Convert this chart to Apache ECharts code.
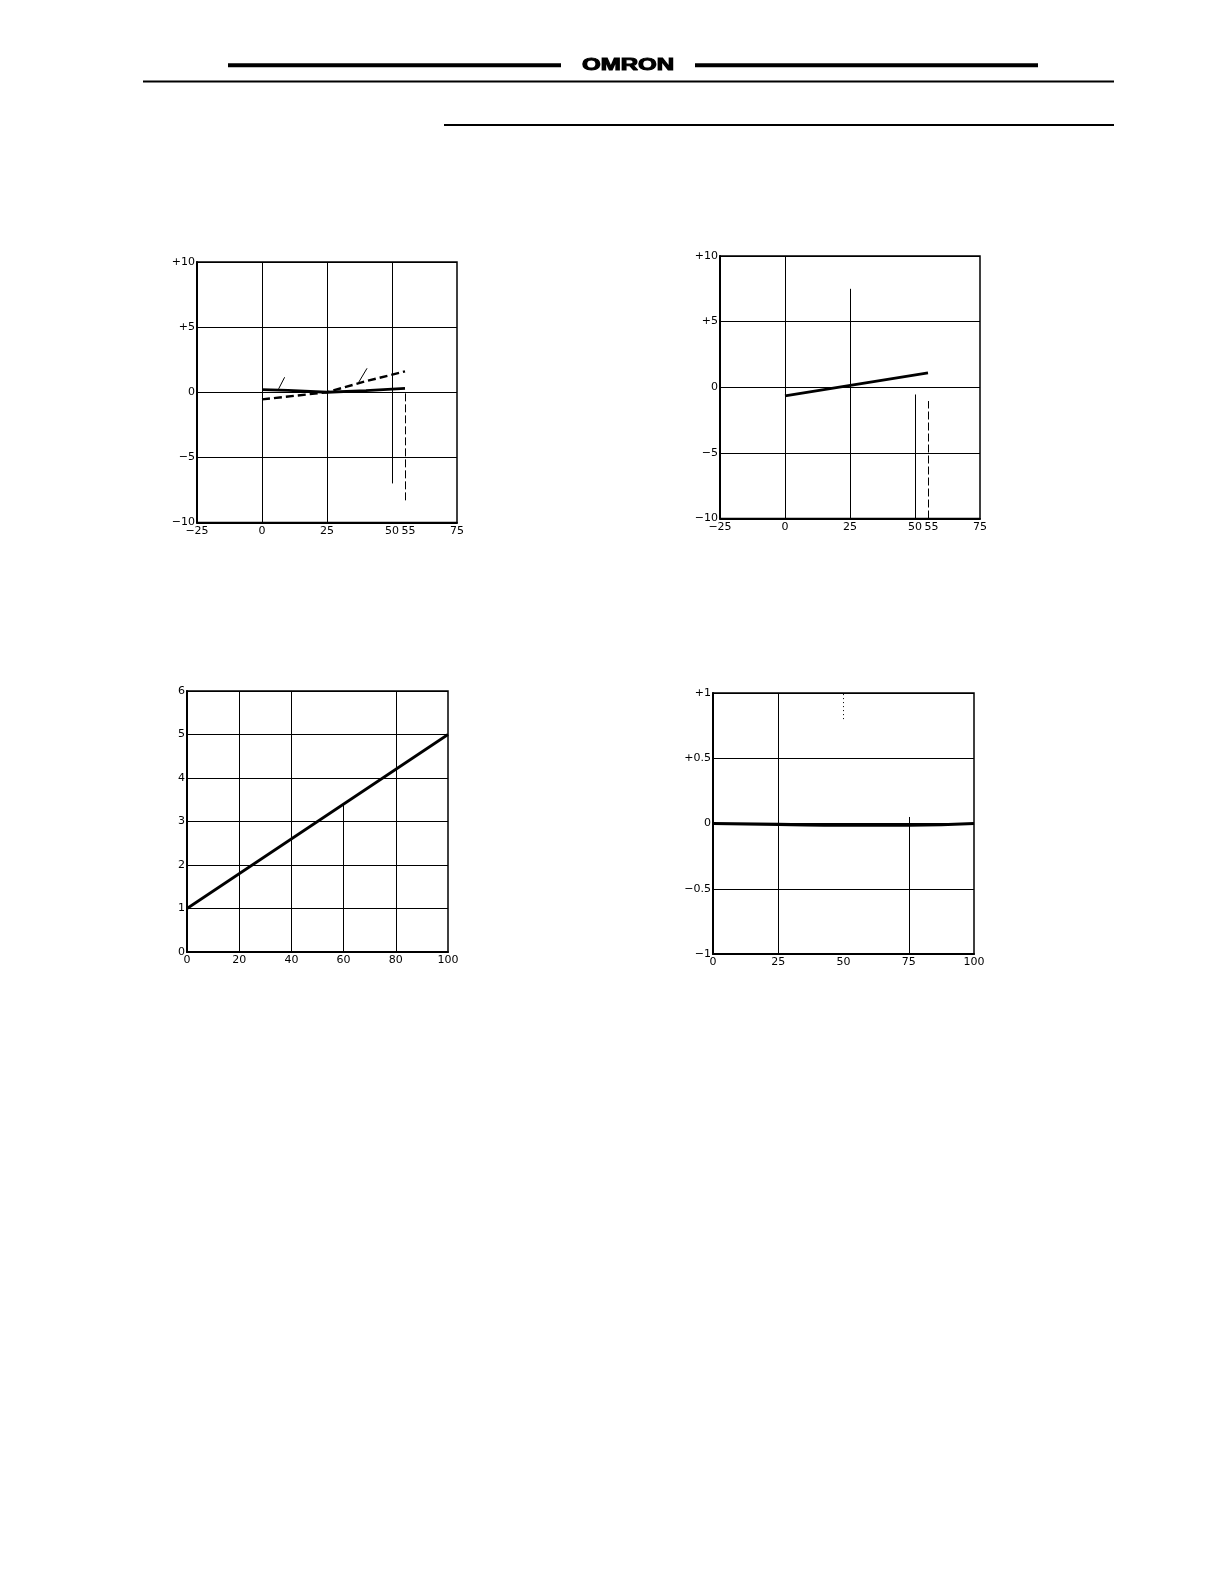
<!DOCTYPE html>
<html>
<head>
<meta charset="utf-8">
<script src="https://cdn.jsdelivr.net/npm/echarts@6/dist/echarts.min.js"></script>
<style>
html,body{margin:0;padding:0;background:#fff;}
#c{width:1224px;height:1584px;}
</style>
</head>
<body>
<div id="c"></div>
<script>
// ---------- Chart 1 (top-left) ----------
const c1SolidTemp = [0, 10, 25, 40, 55];
const c1Solid     = [0.2, 0.15, 0.0, 0.13, 0.3];
const c1DashTemp  = [0, 25, 40, 55];
const c1Dashed    = [-0.55, 0.0, 0.85, 1.6];
const c1XTicks    = [-25, 0, 25, 50, 55, 75];
// vertical reference lines: [x, yFrom, yTo]
const c1VLines    = [[0, -10, 10], [25, -10, 10], [50, -7, 10]];
const c1VDashed   = [[55, -8.3, 0]];
// leader lines: [x1, y1, x2, y2]
const c1Leaders   = [[8.7, 1.15, 6.4, 0.26], [40.4, 1.84, 37.2, 0.77]];

// ---------- Chart 2 (top-right) ----------
const c2Temp      = [0, 55];
const c2Vals      = [-0.65, 1.1];
const c2XTicks    = [-25, 0, 25, 50, 55, 75];
const c2VLines    = [[0, -10, 10], [25, -10, 7.5], [50, -10, -0.55]];
const c2VDashed   = [[55, -10, -1.05]];

// ---------- Chart 3 (bottom-left) ----------
const c3X         = [0, 100];
const c3Y         = [1, 5];
const c3VLines    = [[20, 0, 6], [40, 0, 6], [60, 0, 3.4], [80, 0, 6]];

// ---------- Chart 4 (bottom-right) ----------
const c4X         = [0, 25, 50, 75, 100];
const c4Y         = [0, -0.006, -0.013, -0.013, 0];
const c4VLines    = [[25, -1, 1], [75, -1, 0.05]];
const c4VDotted   = [[50, 0.8, 1]];

const FONT = 'DejaVu Sans';
const FS = 11;
const MINUS = '\u2212';
function signed(v){ if (v > 0) return '+' + v; if (v < 0) return MINUS + Math.abs(v); return '0'; }
function minusOnly(v){ return v < 0 ? MINUS + Math.abs(v) : String(v); }

function seg(x, y0, y1, style){
  return [{coord: [x, y0], lineStyle: style}, {coord: [x, y1]}];
}
function vlines(list, style){ return list.map(d => seg(d[0], d[1], d[2], style)); }
function leaders(list, style){
  return list.map(d => [{coord: [d[0], d[1]], lineStyle: style}, {coord: [d[2], d[3]]}]);
}
const solidGrid = {color: '#000', width: 1, type: 'solid'};
const dashGrid  = {color: '#000', width: 1, type: [8, 3]};
const dotGrid   = {color: '#000', width: 1, type: [1, 3]};

function mkMarkLine(data){
  return {
    silent: true, symbol: ['none', 'none'], animation: false,
    label: {show: false}, emphasis: {disabled: true},
    lineStyle: solidGrid, data: data
  };
}

const grids = [
  {left: 197, top: 262, width: 260, height: 260.5},
  {left: 720, top: 256, width: 260, height: 262.5},
  {left: 187, top: 691, width: 261, height: 261},
  {left: 713, top: 693, width: 261, height: 261}
].map(g => Object.assign({show: true, borderColor: '#000', borderWidth: 1.5, backgroundColor: 'transparent', containLabel: false}, g));

function xAx(i, min, max, interval, fmt, custom){
  const lab = {color: '#000', fontFamily: FONT, fontSize: FS, margin: 3, formatter: fmt,
    rich: {r: {fontFamily: FONT, fontSize: FS, color: '#000', padding: [0, 0, 0, 7]}}};
  if (custom) lab.customValues = custom;
  return {gridIndex: i, type: 'value', min: min, max: max, interval: interval,
    axisLine: {show: true, onZero: false, lineStyle: {color: '#000', width: 2}},
    axisTick: {show: false}, splitLine: {show: false}, axisLabel: lab};
}
function yAx(i, min, max, interval, fmt){
  return {gridIndex: i, type: 'value', min: min, max: max, interval: interval,
    axisLine: {show: true, onZero: false, lineStyle: {color: '#000', width: 2}},
    axisTick: {show: false},
    splitLine: {show: true, lineStyle: {color: '#000', width: 1}},
    axisLabel: {color: '#000', fontFamily: FONT, fontSize: FS, margin: 2, formatter: fmt}};
}
function tempFmt(v){ return v === 55 ? '{r|55}' : minusOnly(v); }

const pair = (xs, ys) => xs.map((x, k) => [x, ys[k]]);

const option = {
  animation: false,
  backgroundColor: '#fff',
  grid: grids,
  xAxis: [
    xAx(0, -25, 75, 25, tempFmt, c1XTicks),
    xAx(1, -25, 75, 25, tempFmt, c2XTicks),
    xAx(2, 0, 100, 20, minusOnly),
    xAx(3, 0, 100, 25, minusOnly)
  ],
  yAxis: [
    yAx(0, -10, 10, 5, signed),
    yAx(1, -10, 10, 5, signed),
    yAx(2, 0, 6, 1, minusOnly),
    yAx(3, -1, 1, 0.5, signed)
  ],
  series: [
    {type: 'line', xAxisIndex: 0, yAxisIndex: 0, data: pair(c1SolidTemp, c1Solid),
     showSymbol: false, symbol: 'none', z: 5,
     lineStyle: {color: '#000', width: 2.8},
     markLine: mkMarkLine(vlines(c1VLines, solidGrid)
        .concat(vlines(c1VDashed, dashGrid))
        .concat(leaders(c1Leaders, solidGrid)))},
    {type: 'line', xAxisIndex: 0, yAxisIndex: 0, data: pair(c1DashTemp, c1Dashed),
     showSymbol: false, symbol: 'none', z: 5,
     lineStyle: {color: '#000', width: 2.4, type: [8, 4]}},
    {type: 'line', xAxisIndex: 1, yAxisIndex: 1, data: pair(c2Temp, c2Vals),
     showSymbol: false, symbol: 'none', z: 5,
     lineStyle: {color: '#000', width: 2.8},
     markLine: mkMarkLine(vlines(c2VLines, solidGrid).concat(vlines(c2VDashed, dashGrid)))},
    {type: 'line', xAxisIndex: 2, yAxisIndex: 2, data: pair(c3X, c3Y),
     showSymbol: false, symbol: 'none', z: 5,
     lineStyle: {color: '#000', width: 2.8},
     markLine: mkMarkLine(vlines(c3VLines, solidGrid))},
    {type: 'line', xAxisIndex: 3, yAxisIndex: 3, data: pair(c4X, c4Y),
     showSymbol: false, symbol: 'none', z: 5, smooth: true,
     lineStyle: {color: '#000', width: 3.2},
     markLine: mkMarkLine(vlines(c4VLines, solidGrid).concat(vlines(c4VDotted, dotGrid)))}
  ],
  graphic: [
    {type: 'line', shape: {x1: 228, y1: 65.3, x2: 561, y2: 65.3}, style: {stroke: '#000', lineWidth: 4}},
    {type: 'line', shape: {x1: 695, y1: 65.3, x2: 1038, y2: 65.3}, style: {stroke: '#000', lineWidth: 4}},
    {type: 'text', x: 628, y: 65.5, scaleX: 1.5,
     style: {text: 'OMRON', font: 'bold 16px "Liberation Sans"', fill: '#000', stroke: '#000', lineWidth: 1,
             align: 'center', verticalAlign: 'middle'}},
    {type: 'line', shape: {x1: 143, y1: 81.5, x2: 1114, y2: 81.5}, style: {stroke: '#000', lineWidth: 2}},
    {type: 'line', shape: {x1: 444, y1: 125, x2: 1114, y2: 125}, style: {stroke: '#000', lineWidth: 2}}
  ]
};

const chart = echarts.init(document.getElementById('c'), null, {renderer: 'canvas', width: 1224, height: 1584});
chart.setOption(option);
</script>
</body>
</html>
